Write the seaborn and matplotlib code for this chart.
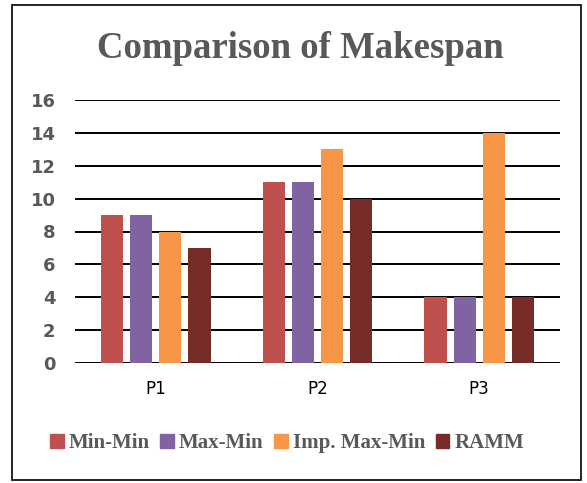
import pandas as pd
import matplotlib.pyplot as plt
import seaborn as sns
from matplotlib.patches import Rectangle

# chart data
problems = ["P1", "P2", "P3"]
algorithms = ["Min-Min", "Max-Min", "Imp. Max-Min", "RAMM"]
min_min = [9, 11, 4]
max_min = [9, 11, 4]
imp_max_min = [8, 13, 14]
ramm = [7, 10, 4]
colors = ["#C0504D", "#8064A2", "#F79646", "#772C2A"]

df = pd.DataFrame({
    "Problem": problems * 4,
    "Algorithm": [a for a in algorithms for _ in problems],
    "Makespan": min_min + max_min + imp_max_min + ramm,
})

sns.set_style("white")

fig = plt.figure(figsize=(5.87, 4.83), dpi=100)
ax = fig.add_axes([75 / 587, 1 - 363 / 483, 485 / 587, 263 / 483])

sns.barplot(
    data=df, x="Problem", y="Makespan", hue="Algorithm",
    hue_order=algorithms, palette=colors, width=0.72, gap=0.24,
    saturation=1, linewidth=0, ax=ax, legend=False,
)

ax.set_ylim(0, 16)
ax.set_xlim(-0.5, 2.5)
ax.set_yticks(range(0, 17, 2))
for y in range(0, 17, 2):
    ax.axhline(y, color="black", lw=1.4, zorder=0)
ax.set_axisbelow(True)
for s in ax.spines.values():
    s.set_visible(False)

ax.set_xlabel("")
ax.set_ylabel("")
ax.tick_params(axis="y", length=0, pad=14, labelsize=13, labelcolor="#595959")
ax.tick_params(axis="x", length=0, pad=12, labelsize=12, labelcolor="black")
for lbl in ax.get_yticklabels():
    lbl.set_fontweight("bold")

fig.text(0.511, 1 - 49 / 483, "Comparison of Makespan", ha="center", va="center",
         family="Liberation Serif", fontweight="bold", fontsize=26.5, color="#595959")

handles = [Rectangle((0, 0), 1, 1, color=c) for c in colors]
fig.legend(handles, algorithms, loc="center", bbox_to_anchor=(0.489, 1 - 443 / 483),
           ncol=4, frameon=False, handlelength=0.65, handleheight=0.65,
           handletextpad=0.25, columnspacing=0.5,
           prop={"family": "Liberation Serif", "weight": "bold", "size": 15},
           labelcolor="#595959")

fig.patches.append(Rectangle((12 / 587, 3 / 483), 569 / 587, 475 / 483,
                             transform=fig.transFigure, fill=False,
                             edgecolor="black", lw=1.2))

fig.savefig("out.png", dpi=100)
